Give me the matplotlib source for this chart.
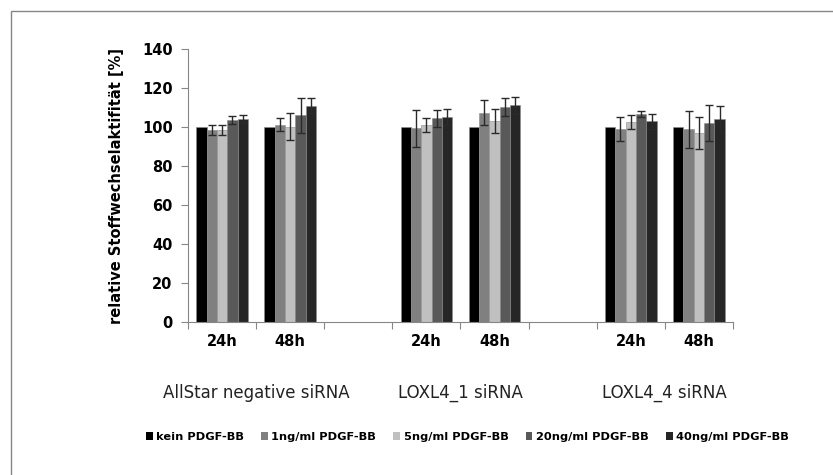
import numpy as np
import matplotlib
matplotlib.use("Agg")
import matplotlib.pyplot as plt
from matplotlib.patches import Patch, Rectangle

# category axis: 24h / 48h per siRNA with an empty slot between groups
hours = ["24h", "48h", "", "24h", "48h", "", "24h", "48h"]
filled = [0, 1, 3, 4, 6, 7]
groups = ["AllStar negative siRNA", "LOXL4_1 siRNA", "LOXL4_4 siRNA"]
group_pos = [0.5, 3.5, 6.5]

series = ["kein PDGF-BB", "1ng/ml PDGF-BB", "5ng/ml PDGF-BB",
          "20ng/ml PDGF-BB", "40ng/ml PDGF-BB"]
colors = ["#000000", "#808080", "#c0c0c0", "#595959", "#262626"]

# values for AllStar 24h, 48h, LOXL4_1 24h, 48h, LOXL4_4 24h, 48h
kein = [100, 100, 100, 100, 100, 100]
kein_err = [0, 0, 0, 0, 0, 0]
ng1 = [98.5, 101.2, 99.3, 107.3, 98.8, 98.8]
ng1_err = [2.5, 3.3, 9.3, 6.5, 6.2, 9.6]
ng5 = [98.5, 100.2, 101.0, 103.0, 102.4, 96.8]
ng5_err = [2.7, 6.9, 3.6, 6.0, 3.5, 8.1]
ng20 = [103.6, 106.0, 104.4, 110.4, 106.7, 101.9]
ng20_err = [2.0, 8.9, 4.3, 4.7, 1.6, 9.3]
ng40 = [104.1, 111.0, 105.0, 111.1, 103.0, 104.1]
ng40_err = [1.9, 4.0, 4.2, 4.2, 3.9, 6.6]

values = [kein, ng1, ng5, ng20, ng40]
errors = [kein_err, ng1_err, ng5_err, ng20_err, ng40_err]

axis_grey = "#868686"

fig = plt.figure(figsize=(8.33, 4.75), dpi=100)
ax = fig.add_axes([188 / 833, 1 - 322 / 475, 545 / 833, 273 / 475])

width = 0.152
x = np.array(filled, dtype=float)
for i, (vals, errs) in enumerate(zip(values, errors)):
    pos = x + (i - 2) * width
    ax.bar(pos, vals, width, color=colors[i], edgecolor="#8c8c8c",
           linewidth=0.4, zorder=2)
    if any(errs):
        ax.errorbar(pos, vals, yerr=errs, fmt="none", ecolor="#2a2a2a",
                    elinewidth=1.0, capsize=3, capthick=1.0, zorder=3)

ax.set_xlim(-0.5, 7.5)
ax.set_ylim(0, 140)
ax.set_yticks(np.arange(0, 141, 20))
ax.tick_params(axis="y", direction="out", length=5, color=axis_grey,
               labelsize=10.5, pad=6)
for lab in ax.get_yticklabels():
    lab.set_fontweight("bold")

# ticks at category borders, labels at category centres
ax.set_xticks(np.arange(-0.5, 8.0, 1.0))
ax.set_xticklabels([])
ax.tick_params(axis="x", which="major", direction="out", length=5,
               color=axis_grey)
ax.set_xticks(np.arange(8), minor=True)
ax.set_xticklabels(hours, minor=True, fontsize=10.5, fontweight="bold")
ax.tick_params(axis="x", which="minor", length=0, pad=9)

for side in ["top", "right"]:
    ax.spines[side].set_visible(False)
for side in ["left", "bottom"]:
    ax.spines[side].set_color(axis_grey)

ax.set_ylabel("relative Stoffwechselaktifität [%]", fontsize=10.5,
              fontweight="bold", labelpad=13)

for g, gx in zip(groups, group_pos):
    ax.text(gx, -0.26, g, transform=ax.get_xaxis_transform(), ha="center",
            va="center", fontsize=12, color="#222222")

handles = [Patch(facecolor=c, edgecolor="none") for c in colors]
fig.legend(handles, series, loc="center", bbox_to_anchor=(0.561, 0.08),
           ncol=5, frameon=False, handlelength=0.6, handleheight=0.6,
           handletextpad=0.3, columnspacing=1.5,
           prop={"size": 8.2, "weight": "bold"})

# chart area border (only top and left edges visible in the crop)
fig.add_artist(Rectangle((11 / 833, -0.5), 2.0, 0.5 + 1 - 11 / 475,
                         transform=fig.transFigure, fill=False,
                         edgecolor=axis_grey, linewidth=1.0))

fig.savefig("out.png", dpi=100)
